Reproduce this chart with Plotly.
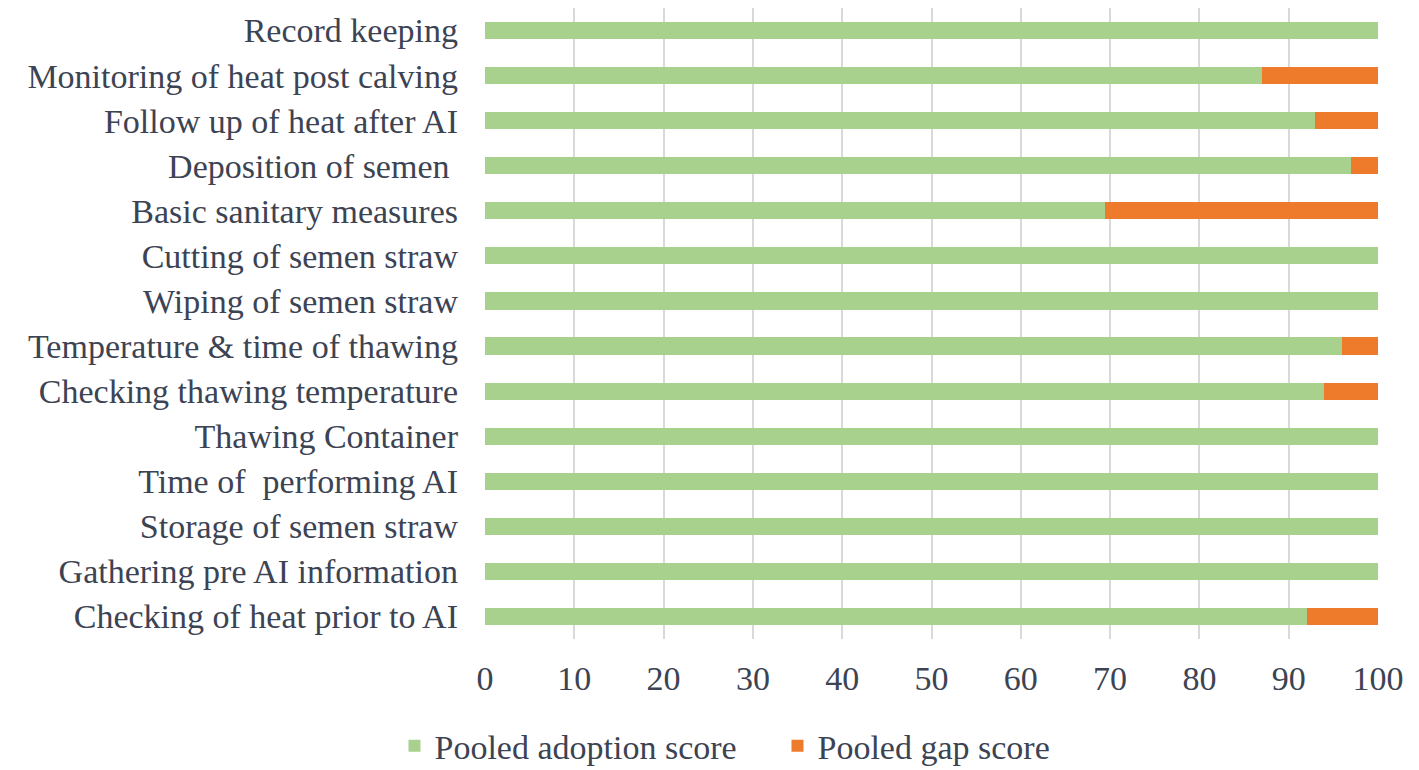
import plotly.graph_objects as go

categories = [
    "Checking of heat prior to AI",
    "Gathering pre AI information",
    "Storage of semen straw",
    "Time of  performing AI",
    "Thawing Container",
    "Checking thawing temperature",
    "Temperature & time of thawing",
    "Wiping of semen straw",
    "Cutting of semen straw",
    "Basic sanitary measures",
    "Deposition of semen ",
    "Follow up of heat after AI",
    "Monitoring of heat post calving",
    "Record keeping",
]
adoption = [92, 100, 100, 100, 100, 94, 96, 100, 100, 69.4, 97, 93, 87, 100]
gap = [8, 0, 0, 0, 0, 6, 4, 0, 0, 30.6, 3, 7, 13, 0]
x_ticks = [0, 10, 20, 30, 40, 50, 60, 70, 80, 90, 100]

FONT = "Times New Roman"
TXT = "#3c4353"
FS = 34

fig = go.Figure()
fig.add_trace(go.Bar(y=categories, x=adoption, orientation="h",
                     name="Pooled adoption score", marker=dict(color="#A9D18E", line=dict(width=0))))
fig.add_trace(go.Bar(y=categories, x=gap, orientation="h",
                     name="Pooled gap score", marker=dict(color="#EE7A2C", line=dict(width=0))))

fig.update_layout(
    barmode="stack",
    bargap=0.62,
    width=1419, height=770,
    margin=dict(l=485, r=41, t=8, b=131),
    plot_bgcolor="white", paper_bgcolor="white",
    font=dict(family=FONT, size=FS, color=TXT),
    legend=dict(orientation="h", xref="container", yref="container",
                x=0.278, y=0.031, xanchor="left", yanchor="middle",
                traceorder="normal", entrywidth=338, entrywidthmode="pixels",
                font=dict(family=FONT, size=FS, color=TXT), itemwidth=30, tracegroupgap=0),
    xaxis=dict(range=[0, 100], tickvals=x_ticks, showgrid=True, gridcolor="#d9d9d9",
               gridwidth=1.5, zeroline=False, showline=False, ticks="",
               ticklabelstandoff=16, tickfont=dict(family=FONT, size=FS, color=TXT)),
    yaxis=dict(categoryorder="array", categoryarray=categories, showgrid=False,
               ticks="", ticklabelstandoff=26, tickfont=dict(family=FONT, size=FS, color=TXT)),
)

fig.write_html("out.html")
